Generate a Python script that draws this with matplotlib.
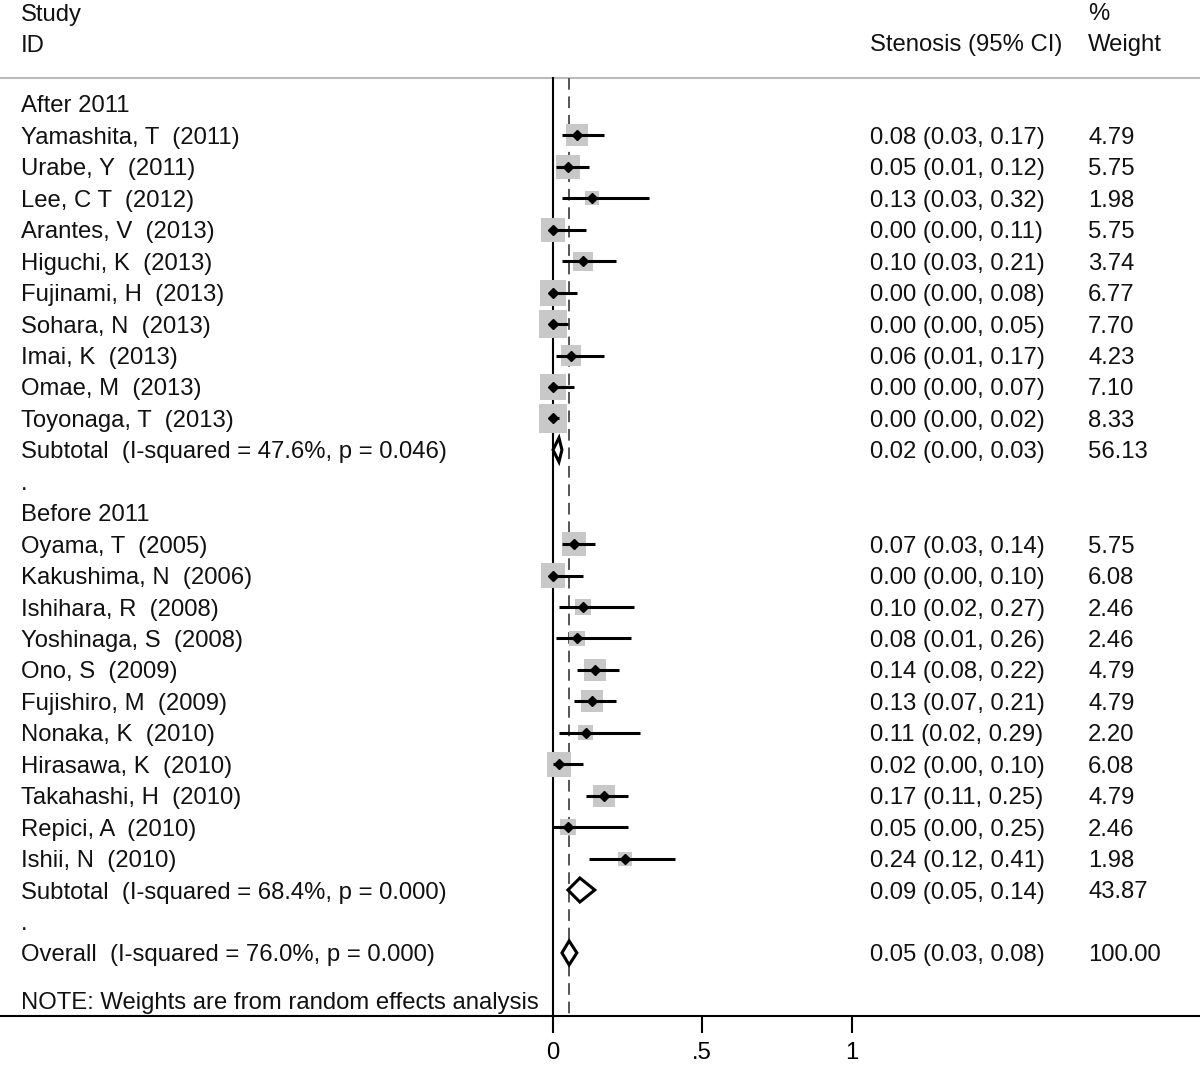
import matplotlib
matplotlib.use("Agg")
import matplotlib.pyplot as plt
from matplotlib.patches import Polygon

plt.rcParams['font.family'] = ['Liberation Sans', 'DejaVu Sans']

# ---------------- data ----------------
group1_label = "After 2011"
group1_studies = ["Yamashita, T  (2011)", "Urabe, Y  (2011)", "Lee, C T  (2012)",
                  "Arantes, V  (2013)", "Higuchi, K  (2013)", "Fujinami, H  (2013)",
                  "Sohara, N  (2013)", "Imai, K  (2013)", "Omae, M  (2013)",
                  "Toyonaga, T  (2013)"]
group1_es = [0.08, 0.05, 0.13, 0.00, 0.10, 0.00, 0.00, 0.06, 0.00, 0.00]
group1_lo = [0.03, 0.01, 0.03, 0.00, 0.03, 0.00, 0.00, 0.01, 0.00, 0.00]
group1_hi = [0.17, 0.12, 0.32, 0.11, 0.21, 0.08, 0.05, 0.17, 0.07, 0.02]
group1_w = [4.79, 5.75, 1.98, 5.75, 3.74, 6.77, 7.70, 4.23, 7.10, 8.33]
group1_sub_label = "Subtotal  (I-squared = 47.6%, p = 0.046)"
group1_sub = (0.02, 0.00, 0.03, 56.13)

group2_label = "Before 2011"
group2_studies = ["Oyama, T  (2005)", "Kakushima, N  (2006)", "Ishihara, R  (2008)",
                  "Yoshinaga, S  (2008)", "Ono, S  (2009)", "Fujishiro, M  (2009)",
                  "Nonaka, K  (2010)", "Hirasawa, K  (2010)", "Takahashi, H  (2010)",
                  "Repici, A  (2010)", "Ishii, N  (2010)"]
group2_es = [0.07, 0.00, 0.10, 0.08, 0.14, 0.13, 0.11, 0.02, 0.17, 0.05, 0.24]
group2_lo = [0.03, 0.00, 0.02, 0.01, 0.08, 0.07, 0.02, 0.00, 0.11, 0.00, 0.12]
group2_hi = [0.14, 0.10, 0.27, 0.26, 0.22, 0.21, 0.29, 0.10, 0.25, 0.25, 0.41]
group2_w = [5.75, 6.08, 2.46, 2.46, 4.79, 4.79, 2.20, 6.08, 4.79, 2.46, 1.98]
group2_sub_label = "Subtotal  (I-squared = 68.4%, p = 0.000)"
group2_sub = (0.09, 0.05, 0.14, 43.87)

overall_label = "Overall  (I-squared = 76.0%, p = 0.000)"
overall = (0.054, 0.03, 0.08, 100.00)

note = "NOTE: Weights are from random effects analysis"
xticks = [0, 0.5, 1]
xticklabels = ["0", ".5", "1"]

# ---------------- layout (pixel-like units) ----------------
W, H = 1200, 1065
AX_Y = 1016           # pixel row of x-axis
X0 = 553              # pixel of x=0
SCALE = 298.5         # pixels per unit
FS = 17.2
TXT_X = (21 - X0) / SCALE
CI_X = (870 - X0) / SCALE
WT_X = (1088 - X0) / SCALE
ROW0, DROW = 104, 31.44
CAP = 8.5

fig = plt.figure(figsize=(W / 100, H / 100), dpi=100)
ax = fig.add_axes([0, (H - AX_Y) / H, 1, AX_Y / H])
ax.set_xlim(-X0 / SCALE, (W - X0) / SCALE)
ax.set_ylim(AX_Y, 0)
for s in ['top', 'left', 'right']:
    ax.spines[s].set_visible(False)
ax.spines['bottom'].set_linewidth(1.5)
ax.set_yticks([])
ax.set_xticks(xticks)
ax.set_xticklabels(xticklabels, fontsize=FS)
ax.tick_params(axis='x', direction='out', length=12, width=1.5, pad=7)


def row(i):
    return ROW0 + DROW * i


def txt(x, y, s):
    ax.text(x, y + CAP, s, fontsize=FS, ha='left', va='baseline', color='#111111')


# header
txt(TXT_X, 12, "Study")
txt(TXT_X, 43, "ID")
txt(CI_X, 43, "Stenosis (95% CI)")
txt(WT_X, 12, "%")
txt(WT_X, 43, "Weight")
ax.axhline(78, color='#bbbbbb', lw=1.5)

# reference lines
ax.plot([0, 0], [78, AX_Y], color='black', lw=1.5, zorder=2)
ax.plot([overall[0], overall[0]], [78, AX_Y], color='#555555', lw=1.4,
        dashes=(6, 3.5), zorder=2)


def study_rows(start, names, es, lo, hi, w):
    for k, (n, e, l, h, wt) in enumerate(zip(names, es, lo, hi, w)):
        y = row(start + k)
        ax.scatter([e], [y], s=51.84 * wt, marker='s', color='#c8c8c8',
                   edgecolors='none', zorder=3)
        ax.plot([l, h], [y, y], color='black', lw=2.2, zorder=4,
                solid_capstyle='butt')
        ax.plot([e], [y], marker='D', color='black', markersize=5.6, zorder=5)
        txt(TXT_X, y, n)
        txt(CI_X, y, f"{e:.2f} ({l:.2f}, {h:.2f})")
        txt(WT_X, y, f"{wt:.2f}")


def diamond(i, label, vals):
    e, l, h, wt = vals
    y = row(i)
    poly = Polygon([(l, y), (e, y - 12), (h, y), (e, y + 12)], closed=True,
                   facecolor='white', edgecolor='black', lw=2.2, zorder=5,
                   joinstyle='miter')
    ax.add_patch(poly)
    txt(TXT_X, y, label)
    txt(CI_X, y, f"{e:.2f} ({l:.2f}, {h:.2f})")
    txt(WT_X, y, f"{wt:.2f}")


txt(TXT_X, row(0), group1_label)
study_rows(1, group1_studies, group1_es, group1_lo, group1_hi, group1_w)
diamond(11, group1_sub_label, group1_sub)
txt(TXT_X, row(12), ".")
txt(TXT_X, row(13), group2_label)
study_rows(14, group2_studies, group2_es, group2_lo, group2_hi, group2_w)
diamond(25, group2_sub_label, group2_sub)
txt(TXT_X, row(26), ".")
diamond(27, overall_label, overall)
txt(TXT_X, 1000, note)

fig.savefig("out.png", dpi=100)
